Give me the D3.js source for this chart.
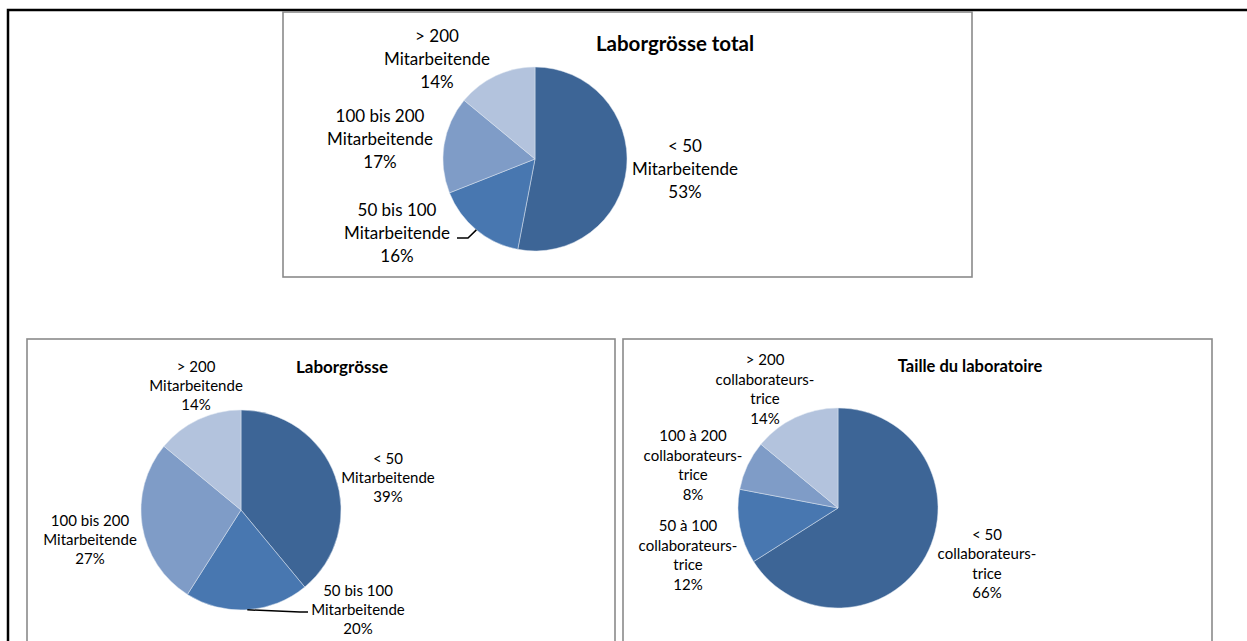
<!DOCTYPE html>
<html>
<head>
<meta charset="utf-8">
<script src="https://cdn.jsdelivr.net/npm/d3@7"></script>
<style>
  body { margin: 0; background: #fff; }
  text { font-family: Lato, "Open Sans", sans-serif; fill: #000; }
</style>
</head>
<body>
<div id="chart"></div>
<script>
// Daten (Anteile in %), Reihenfolge: < 50, 50-100, 100-200, > 200
const catDe = ['< 50', '50 bis 100', '100 bis 200', '> 200'];
const catFr = ['< 50', '50 à 100', '100 à 200', '> 200'];
const valuesTotal = [53, 16, 17, 14];
const valuesDe = [39, 20, 27, 14];
const valuesFr = [66, 12, 8, 14];

const colors = ['#3d6596', '#4877b0', '#7f9cc7', '#b3c3dd'];

const width = 1247;
const height = 641;

const svg = d3.select('#chart')
  .append('svg')
  .attr('width', width)
  .attr('height', height);

// Rahmen aussen
svg.append('path')
  .attr('d', `M8,${height} V10 H${width}`)
  .attr('fill', 'none')
  .attr('stroke', '#000')
  .attr('stroke-width', 2.5);

const pie = d3.pie().sort(null).value(d => d);

function drawPie(opts) {
  const g = svg.append('g');

  // Diagrammrahmen
  g.append('rect')
    .attr('x', opts.box[0])
    .attr('y', opts.box[1])
    .attr('width', opts.box[2])
    .attr('height', opts.box[3])
    .attr('fill', '#fff')
    .attr('stroke', '#8a8a8a')
    .attr('stroke-width', 1.6);

  g.append('text')
    .attr('x', opts.title[1])
    .attr('y', opts.title[2])
    .attr('text-anchor', 'middle')
    .attr('dominant-baseline', 'central')
    .attr('font-weight', 'bold')
    .attr('font-size', opts.titleSize)
    .text(opts.title[0]);

  const [cx, cy] = opts.center;
  const r = opts.radius;
  const arc = d3.arc().innerRadius(0).outerRadius(r);
  const edge = d3.arc().innerRadius(r).outerRadius(r);

  const pg = g.append('g').attr('transform', `translate(${cx},${cy})`);
  const arcs = pie(opts.values);

  pg.selectAll('path.slice')
    .data(arcs)
    .enter()
    .append('path')
    .attr('class', 'slice')
    .attr('d', arc)
    .attr('fill', (d, i) => colors[i])
    .attr('stroke', '#dfe6f0')
    .attr('stroke-width', 0.5);

  // Fuehrungslinien
  (opts.leaders || []).forEach(l => {
    const p = edge.centroid(arcs[l.i]);
    pg.append('path')
      .attr('d', d3.line()([p, l.elbow, l.end]))
      .attr('fill', 'none')
      .attr('stroke', '#000')
      .attr('stroke-width', 1.5);
  });

  // Beschriftungen
  arcs.forEach((d, i) => {
    const lines = opts.labels[i].concat([`${d.data}%`]);
    const off = opts.labelPos[i];
    const lh = opts.lineHeight;
    const t = pg.append('text')
      .attr('text-anchor', 'middle')
      .attr('font-size', opts.fontSize);
    lines.forEach((s, k) => {
      t.append('tspan')
        .attr('x', off[0])
        .attr('y', off[1] + (k - (lines.length - 1) / 2) * lh)
        .attr('dominant-baseline', 'central')
        .text(s);
    });
  });
}

drawPie({
  box: [283, 12, 689, 265],
  title: ['Laborgrösse total', 675, 43],
  titleSize: 20.5,
  center: [535, 159],
  radius: 92,
  values: valuesTotal,
  labels: catDe.map(c => [c, 'Mitarbeitende']),
  labelPos: [[150, 9], [-138, 73], [-155, -21], [-98, -101]],
  fontSize: 17,
  lineHeight: 23,
  leaders: [{ i: 1, elbow: [-67, 79], end: [-78, 79] }]
});

drawPie({
  box: [27, 339, 588, 320],
  title: ['Laborgrösse', 342, 366],
  titleSize: 17,
  center: [241, 510],
  radius: 100,
  values: valuesDe,
  labels: catDe.map(c => [c, 'Mitarbeitende']),
  labelPos: [[147, -33], [117, 99], [-151, 29], [-45, -125]],
  fontSize: 15,
  lineHeight: 19,
  leaders: [{ i: 1, elbow: [59, 102], end: [67, 102] }]
});

drawPie({
  box: [623, 339, 589, 320],
  title: ['Taille du laboratoire', 970, 366],
  titleSize: 16.5,
  center: [838, 508],
  radius: 100,
  values: valuesFr,
  labels: catFr.map(c => [c, 'collaborateurs-', 'trice']),
  labelPos: [[149, 55], [-150, 46.5], [-145, -43.5], [-73, -119.5]],
  fontSize: 15,
  lineHeight: 19.5
});
</script>
</body>
</html>
